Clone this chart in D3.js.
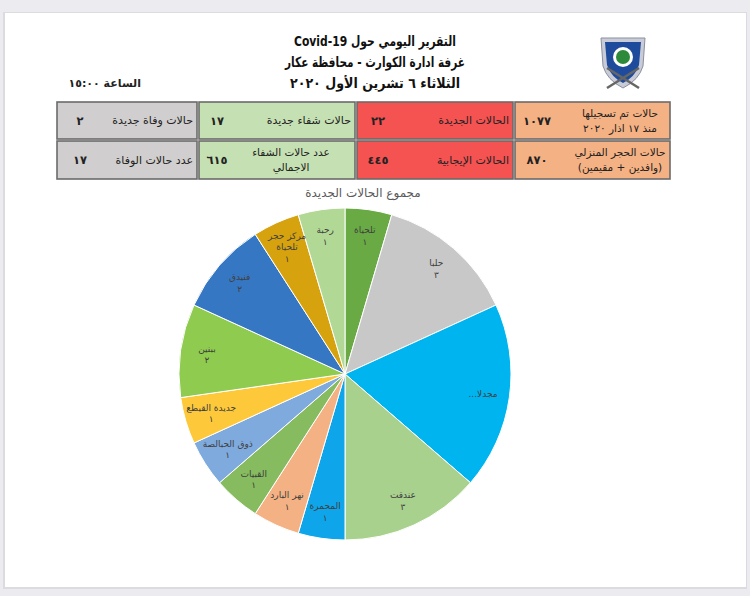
<!DOCTYPE html>
<html><head><meta charset="utf-8">
<script src="https://cdn.jsdelivr.net/npm/d3@7/dist/d3.min.js"></script>
<style>
html,body{margin:0;padding:0;background:#ececf0;}
svg{display:block;}
text{font-family:"DejaVu Sans",sans-serif;}
</style></head>
<body>
<svg id="c" width="750" height="596"></svg>
<script>
// ---- data ----
const titleLines = ["التقرير اليومي حول Covid-19", "غرفة ادارة الكوارث - محافظة عكار", "الثلاثاء ٦ تشرين الأول ٢٠٢٠"];
const timeLabel = "الساعة ١٥:٠٠";
const chartTitle = "مجموع الحالات الجديدة";

// table (right to left: orange, red, green, gray)
const row1Labels = [["حالات تم تسجيلها", "منذ  ١٧ اذار ٢٠٢٠"], ["الحالات الجديدة"], ["حالات شفاء جديدة"], ["حالات وفاة  جديدة"]];
const row1Values = [1077, 22, 17, 2];
const row2Labels = [["حالات الحجر المنزلي", "(وافدين + مقيمين)"], ["الحالات الإيجابية"], ["عدد حالات الشفاء", "الاجمالي"], ["عدد حالات الوفاة"]];
const row2Values = [870, 445, 615, 17];
const cellColors = ["#f4b183", "#f55252", "#c5e0b3", "#d0cece"];

// pie
const towns = [["تلحياة"], ["حلبا"], ["مجدلا..."], ["عندقت"], ["المحمرة"], ["نهر البارد"], ["القبيات"], ["ذوق الحبالصة"], ["جديدة القيطع"], ["ببنين"], ["فنيدق"], ["مركز حجر", "تلحياة"], ["رحبة"]];
const newCases = [1, 3, 4, 3, 1, 1, 1, 1, 1, 2, 2, 1, 1];
const sliceColors = ["#6aaa45", "#c8c8c8", "#00b4f0", "#a9d18e", "#0fa5ea", "#f4b183", "#86bb5f", "#7eaadd", "#fdc93a", "#8fcb4f", "#3677c4", "#d6a20e", "#b2d896"];

// ---- helpers ----
const arDigits = n => String(n).replace(/[0-9]/g, d => "٠١٢٣٤٥٦٧٨٩"[+d]);

const svg = d3.select("#c");

// page
svg.append("rect").attr("x", 0).attr("y", 0).attr("width", 750).attr("height", 596).attr("fill", "#ececf0");
svg.append("rect").attr("x", 3).attr("y", 12).attr("width", 744).attr("height", 577).attr("fill", "#dcdce0");
svg.append("rect").attr("x", 5).attr("y", 13).attr("width", 741).attr("height", 574).attr("fill", "#ffffff");

// header
const yTitle = [41, 62, 83];
const wTitle = [162, 180, 170];
titleLines.forEach((t, i) => {
  svg.append("text").attr("x", 375).attr("y", yTitle[i]).attr("dy", "0.35em")
    .attr("text-anchor", "middle").attr("direction", "rtl")
    .attr("font-size", 14).attr("font-weight", "bold").attr("fill", "#111")
    .attr("textLength", wTitle[i]).attr("lengthAdjust", "spacingAndGlyphs").text(t);
});
svg.append("text").attr("x", 141).attr("y", 83).attr("dy", "0.35em")
  .attr("text-anchor", "start").attr("direction", "rtl")
  .attr("font-size", 11).attr("font-weight", "bold").attr("fill", "#222").text(timeLabel);

// logo (shield)
const logo = svg.append("g").attr("transform", "translate(623,62)");
logo.append("path").attr("d", "M-22,-24 L22,-24 L20,4 Q16,18 0,26 Q-16,18 -20,4 Z")
  .attr("fill", "#c9ccd6").attr("stroke", "#8a8fa0").attr("stroke-width", 1);
logo.append("path").attr("d", "M-18,-20 L18,-20 L16,3 Q12,15 0,21 Q-12,15 -16,3 Z").attr("fill", "#1e4b9c");
logo.append("circle").attr("cx", 0).attr("cy", -5).attr("r", 10).attr("fill", "#ffffff");
logo.append("circle").attr("cx", 0).attr("cy", -5).attr("r", 7).attr("fill", "#2d8a3a");
logo.append("line").attr("x1", -16).attr("y1", 6).attr("x2", 16).attr("y2", 26).attr("stroke", "#666").attr("stroke-width", 2.5);
logo.append("line").attr("x1", 16).attr("y1", 6).attr("x2", -16).attr("y2", 26).attr("stroke", "#666").attr("stroke-width", 2.5);

// table
const colX = [515, 357, 199, 57];
const colW = [155, 156, 156, 140];
const valOff = [22, 21, 18, 23];
const rowY = [102, 141];
const rowH = [37, 38];
[[row1Labels, row1Values], [row2Labels, row2Values]].forEach(([labs, vals], r) => {
  labs.forEach((lab, c) => {
    const g = svg.append("g");
    g.append("rect").attr("x", colX[c]).attr("y", rowY[r]).attr("width", colW[c]).attr("height", rowH[r])
      .attr("fill", cellColors[c]).attr("stroke", "#6b6b6b").attr("stroke-width", 1.6);
    const cy = rowY[r] + rowH[r] / 2;
    g.append("text").attr("x", colX[c] + valOff[c]).attr("y", cy).attr("dy", "0.35em")
      .attr("text-anchor", "middle").attr("font-size", 11.5).attr("font-weight", "bold").attr("fill", "#222")
      .text(arDigits(vals[c]));
    const lx = colX[c] + colW[c] - 4;
    if (lab.length === 1) {
      g.append("text").attr("x", lx).attr("y", cy).attr("dy", "0.35em")
        .attr("text-anchor", "start").attr("direction", "rtl").attr("font-size", 11).attr("fill", "#222").text(lab[0]);
    } else {
      const centerX = c === 2 ? colX[c] + 92 : colX[c] + colW[c] - 50;
      lab.forEach((l, k) => {
        g.append("text").attr("x", centerX).attr("y", cy + (k - 0.5) * 15).attr("dy", "0.35em")
          .attr("text-anchor", "middle").attr("direction", "rtl").attr("font-size", 10.5).attr("fill", "#222").text(l);
      });
    }
  });
});

// chart title
svg.append("text").attr("x", 363).attr("y", 193).attr("dy", "0.35em").attr("text-anchor", "middle")
  .attr("direction", "rtl").attr("font-size", 12).attr("fill", "#595959").text(chartTitle);

// pie
const cx = 345, cyP = 374, R = 166;
const pieData = d3.pie().sort(null).value(d => d.v)(towns.map((t, i) => ({ t, v: newCases[i], c: sliceColors[i] })));
const arc = d3.arc().innerRadius(0).outerRadius(R);
const labArc = d3.arc().innerRadius(R * 0.84).outerRadius(R * 0.84);
const pg = svg.append("g").attr("transform", `translate(${cx},${cyP})`);
pg.selectAll("path.slice").data(pieData).join("path").attr("class", "slice")
  .attr("d", arc).attr("fill", d => d.data.c).attr("stroke", "#ffffff").attr("stroke-width", 1);

pieData.forEach(d => {
  const [x, y] = labArc.centroid(d);
  const lines = d.data.t.slice();
  const trunc = lines[0].endsWith("...");
  if (!trunc) lines.push(arDigits(d.data.v));
  const n = lines.length;
  lines.forEach((l, k) => {
    pg.append("text").attr("x", x).attr("y", y + (k - (n - 1) / 2) * 11.5).attr("dy", "0.35em")
      .attr("text-anchor", "middle").attr("direction", "rtl").attr("font-size", 9).attr("fill", "#404040").text(l);
  });
});
</script>
</body></html>
